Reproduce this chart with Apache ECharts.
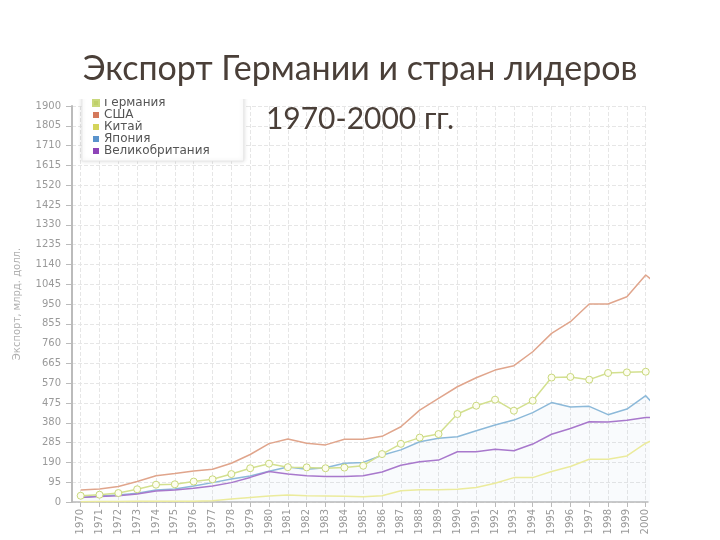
<!DOCTYPE html>
<html>
<head>
<meta charset="utf-8">
<script src="https://cdn.jsdelivr.net/npm/echarts@6/dist/echarts.min.js"></script>
<style>html,body{margin:0;padding:0;background:#fff}#c{width:720px;height:540px}</style>
</head>
<body>
<div id="c"></div>
<script>
var years = [1970,1971,1972,1973,1974,1975,1976,1977,1978,1979,1980,1981,1982,1983,1984,1985,1986,1987,1988,1989,1990,1991,1992,1993,1994,1995,1996,1997,1998,1999,2000,2001];
var yearTicks = [1970,1971,1972,1973,1974,1975,1976,1977,1978,1979,1980,1981,1982,1983,1984,1985,1986,1987,1988,1989,1990,1991,1992,1993,1994,1995,1996,1997,1998,1999,2000];
var germany = [30,35,43,61,83,85,98,109,134,162,184,167,166,162,165,174,230,279,309,326,422,462,491,438,486,597,600,587,619,622,625,null];
var usa = [58,62,74,98,126,137,149,157,186,228,280,302,282,274,301,301,315,361,441,497,553,596,633,654,721,809,865,950,950,985,1089,1017];
var china = [1,2,2,3,4,4,4,6,14,22,29,34,30,29,27,25,30,54,59,59,61,70,90,117,117,146,170,205,205,221,282,320];
var japan = [22,29,34,42,58,62,77,93,110,125,148,168,157,164,186,190,224,250,289,306,313,342,369,393,429,477,456,459,419,446,510,410];
var uk = [21,26,30,38,53,58,66,77,93,118,146,134,126,122,122,126,144,176,193,201,241,241,253,246,278,325,353,385,384,392,405,405];
var names = ['Германия','США','Китай','Япония','Великобритания'];
var yTicksMax = 1900, yStep = 95;

function pairs(vals){ return years.map(function(y,i){ return [y, vals[i]]; }); }

var chart = echarts.init(document.getElementById('c'));
var lbl = {fontFamily:'DejaVu Sans', fontSize:10, color:'#9a9a9a'};
chart.setOption({
  animation:false,
  backgroundColor:'#fff',
  title:[
    {text:'Экспорт Германии и стран лидеров', left:'center', top:47, z:20,
     textStyle:{fontFamily:'Lato', fontSize:34, fontWeight:'normal', color:'#4a3f38'}},
    {text:'1970-2000 гг.', left:'center', top:99, z:20,
     textStyle:{fontFamily:'Lato', fontSize:30, fontWeight:'normal', color:'#4a3f38'}}
  ],
  legend:{
    orient:'vertical', left:82, top:94, z:5,
    icon:'rect', itemWidth:6, itemHeight:6, itemGap:0,
    padding:[3,34,4,10],
    backgroundColor:'#fff', borderColor:'#e8e8e8', borderWidth:1,
    shadowBlur:4, shadowColor:'rgba(0,0,0,0.12)',
    textStyle:{fontFamily:'DejaVu Sans', fontSize:12, lineHeight:11.5, color:'#555'},
    data:[
      {name:names[0], itemStyle:{color:'#bfd06a'}},
      {name:names[1], itemStyle:{color:'#d4795c'}},
      {name:names[2], itemStyle:{color:'#d4d45a'}},
      {name:names[3], itemStyle:{color:'#5a93cc'}},
      {name:names[4], itemStyle:{color:'#8e44b8'}}
    ]
  },
  graphic:[{type:'rect', z:10, shape:{x:74, y:0, width:185, height:99}, style:{fill:'#fff'}}],
  grid:{left:72, right:72, top:106, bottom:38},
  xAxis:{
    type:'value', min:1969.54, max:2000.12,
    axisLine:{lineStyle:{color:'#bbbbbb', width:1.5}},
    axisTick:{customValues:yearTicks, length:5, lineStyle:{color:'#bbbbbb'}},
    axisLabel:Object.assign({customValues:yearTicks, rotate:90, margin:7, formatter:function(v){return String(v);}}, lbl),
    splitLine:{show:true, lineStyle:{type:'dashed', color:'#e6e6e6'}}
  },
  yAxis:{
    type:'value', min:0, max:yTicksMax, interval:yStep,
    name:'Экспорт, млрд. долл.', nameLocation:'middle', nameGap:50,
    nameTextStyle:{fontFamily:'DejaVu Sans', fontSize:10, color:'#b0b0b0'},
    axisLine:{show:true, lineStyle:{color:'#bbbbbb', width:2}},
    axisTick:{show:true, length:6, lineStyle:{color:'#bbbbbb'}},
    axisLabel:Object.assign({margin:11, formatter:function(v){return String(v);}}, lbl),
    splitLine:{show:true, lineStyle:{type:'dashed', color:'#e6e6e6'}}
  },
  series:[
    {name:names[1], type:'line', data:pairs(usa), showSymbol:false, symbol:'none',
     itemStyle:{color:'#d4795c'}, lineStyle:{color:'#e0a58c', width:1.5}},
    {name:names[3], type:'line', data:pairs(japan), symbol:'none',
     itemStyle:{color:'#5a93cc'}, lineStyle:{color:'#8cb9d9', width:1.5},
     areaStyle:{color:'rgba(140,185,217,0.07)'}},
    {name:names[4], type:'line', data:pairs(uk), symbol:'none',
     itemStyle:{color:'#8e44b8'}, lineStyle:{color:'#a878cc', width:1.5}},
    {name:names[2], type:'line', data:pairs(china), symbol:'none',
     itemStyle:{color:'#d4d45a'}, lineStyle:{color:'#ebeb9c', width:1.5}},
    {name:names[0], type:'line', data:pairs(germany), symbol:'circle', symbolSize:7, z:5,
     itemStyle:{color:'#fdfdf0', borderColor:'#c9d87c', borderWidth:1},
     lineStyle:{color:'#d3e08f', width:1.5}}
  ]
});
</script>
</body>
</html>
